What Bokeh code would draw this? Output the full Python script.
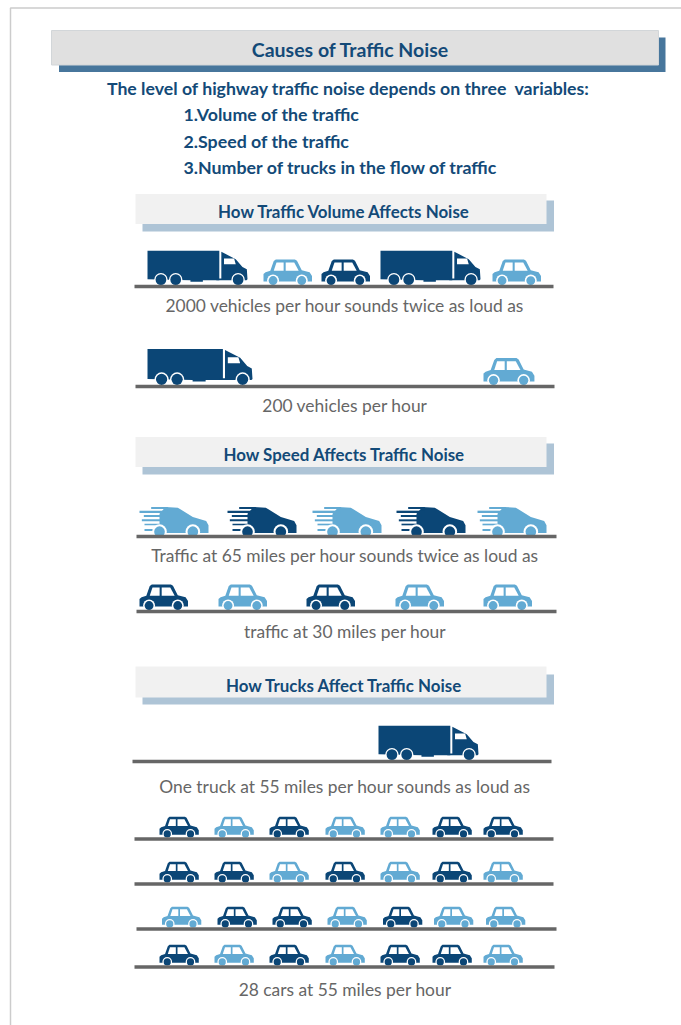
from bokeh.plotting import figure
from bokeh.models import Range1d
from bokeh.core.properties import value
from bokeh.embed import file_html
from bokeh.resources import INLINE

# ---------- content ----------
title = "Causes of Traffic Noise"
intro = "The level of highway traffic noise depends on three\u00a0 variables:"
variables = ["1.Volume of the traffic", "2.Speed of the traffic", "3.Number of trucks in the flow of traffic"]
section_titles = ["How Traffic Volume Affects Noise", "How Speed Affects Traffic Noise", "How Trucks Affect Traffic Noise"]
captions = ["2000 vehicles per hour sounds twice as loud as", "200 vehicles per hour",
            "Traffic at 65 miles per hour sounds twice as loud as", "traffic at 30 miles per hour",
            "One truck at 55 miles per hour sounds as loud as", "28 cars at 55 miles per hour"]

# D = dark blue, L = light blue
row1_kinds = ["truck", "car", "car", "truck", "car"]
row1_shades = ["D", "L", "D", "D", "L"]
row2_kinds = ["truck", "car"]
row2_shades = ["D", "L"]
row3_kinds = ["fast"] * 5
row3_shades = ["L", "D", "L", "D", "L"]
row4_kinds = ["car"] * 5
row4_shades = ["D", "L", "D", "L", "L"]
row5_kinds = ["truck"]
row5_shades = ["D"]
row6_kinds = ["car"] * 7
row6_shades = ["D", "L", "D", "L", "L", "D", "D"]
row7_kinds = ["car"] * 7
row7_shades = ["D", "D", "L", "D", "L", "D", "L"]
row8_kinds = ["car"] * 7
row8_shades = ["L", "D", "D", "L", "D", "L", "L"]
row9_kinds = ["car"] * 7
row9_shades = ["D", "L", "D", "L", "D", "D", "L"]

# ---------- layout ----------
DARK, LIGHT, INK, GREY, ROAD = "#0b4676", "#62aad3", "#134a78", "#666666", "#666666"
SHADE = {"D": DARK, "L": LIGHT}
WIDTH = {"car": 48.5, "fast": 69, "truck": 100}

row_left = [
    [147, 263, 321, 380, 492],
    [147, 483],
    [139, 227, 312, 396, 477],
    [139, 218, 306, 395, 483],
    [378],
    [159, 214, 269, 325, 380, 432, 483],
    [159, 214, 269, 325, 380, 432, 483],
    [161.5, 217, 272, 327, 382.5, 433.5, 485.5],
    [159, 214, 269, 325, 380, 432, 483],
]
row_road = [(134, 553, 286), (135, 554, 386), (136, 556, 536), (136, 556, 611), (132, 551, 761),
            (134, 553, 838.5), (134, 553, 883.5), (136, 556, 928.5), (134, 554, 966.5)]
row_scale = [1, 1.05, 1, 1, 1, 0.81, 0.81, 0.81, 0.81]
all_kinds = [row1_kinds, row2_kinds, row3_kinds, row4_kinds, row5_kinds, row6_kinds, row7_kinds, row8_kinds, row9_kinds]
all_shades = [row1_shades, row2_shades, row3_shades, row4_shades, row5_shades, row6_shades, row7_shades, row8_shades, row9_shades]

# ---------- icon templates (drawing units: origin top-left) ----------
CAR = dict(
    w=142, h=75,
    body=[[(0, 43), (6, 38), (20, 33), (30, 5), (36, 0), (92, 0), (98, 4), (112, 32), (135, 38), (142, 49), (142, 65),
           (0, 65)]],
    holes=[[(38, 9), (59, 9), (59, 33), (30, 33)], [(65, 9), (90, 9), (103, 33), (65, 33)]],
    wheels=[(28, 62, 13), (112, 62, 13)], halo=17.5)
FAST = dict(
    w=207, h=84,
    body=[[(78, 0), (115, 2), (160, 30), (200, 42), (207, 55), (207, 78), (40, 78), (60, 50), (60, 20)],
          [(35, 0), (85, 0), (85, 6), (35, 6)],
          [(0, 11), (85, 11), (85, 18), (0, 18)],
          [(13, 24), (75, 24), (75, 30), (13, 30)],
          [(7, 37), (70, 37), (70, 43), (7, 43)],
          [(15, 50), (60, 50), (60, 55), (15, 55)],
          [(15, 66), (50, 66), (50, 72), (15, 72)]],
    holes=[], wheels=[(60, 74, 16), (160, 74, 16)], halo=22)
TRUCK = dict(
    w=298, h=102,
    body=[[(0, 0), (214, 0), (214, 88), (165, 88), (165, 92), (128, 92), (128, 88), (0, 85)],
          [(220, 3), (263, 25), (283, 48), (296, 55), (298, 85), (295, 88), (205, 88), (205, 83), (220, 83)]],
    holes=[[(228, 23), (258, 23), (263, 40), (228, 40)]],
    wheels=[(40, 86, 16), (84, 86, 16), (270, 86, 16)], halo=20)
TEMPLATES = {"car": CAR, "fast": FAST, "truck": TRUCK}

p = figure(width=681, height=1025, output_backend="svg", toolbar_location=None,
           x_range=Range1d(0, 681), y_range=Range1d(1025, 0), min_border=0, outline_line_color=None)
p.axis.visible = False
p.grid.visible = False
p.xaxis.visible = False
p.yaxis.visible = False

# page edge
p.line([10, 10, 681], [1025, 7.5, 7.5], line_color="#cccccc", line_width=1.5)

# banners
def banner(rect, shadow, fill, edge, border=None):
    p.quad(left=[shadow[0]], right=[shadow[1]], top=[shadow[2]], bottom=[shadow[3]], fill_color=edge, line_color=None)
    p.quad(left=[rect[0]], right=[rect[1]], top=[rect[2]], bottom=[rect[3]], fill_color=fill, line_color=border)

banner((51, 658, 30, 64.5), (58.5, 665, 37, 71.5), "#e0e0e0", "#47769c", "#d2d6d9")
banner((135, 546, 193.5, 223.5), (142, 553.5, 200, 231), "#f1f1f1", "#aec4d6")
banner((135, 546, 436.5, 466.5), (142, 553.5, 443, 474), "#f1f1f1", "#aec4d6")
banner((135, 546, 666, 697), (142, 553.5, 674, 704), "#f1f1f1", "#aec4d6")

# vehicles
for kinds, shades, lefts, road, rs in zip(all_kinds, all_shades, row_left, row_road, row_scale):
    x0, x1, ry = road
    for kind, shade, left in zip(kinds, shades, lefts):
        t = TEMPLATES[kind]
        s = WIDTH[kind] * rs / t["w"]
        bottom = ry - 1.5
        top = bottom - t["h"] * s
        px = lambda pts: [left + a * s for a, _ in pts]
        py = lambda pts: [top + b * s for _, b in pts]
        col = SHADE[shade]
        p.patches([px(b) for b in t["body"]], [py(b) for b in t["body"]], fill_color=col, line_color=None)
        if t["holes"]:
            p.patches([px(h) for h in t["holes"]], [py(h) for h in t["holes"]], fill_color="#ffffff", line_color=None)
        wx = [left + w[0] * s for w in t["wheels"]]
        wy = [top + w[1] * s for w in t["wheels"]]
        p.circle(wx, wy, radius=t["halo"] * s, fill_color="#ffffff", line_color=None)
        p.circle(wx, wy, radius=[w[2] * s for w in t["wheels"]], fill_color=col, line_color=None)
    p.quad(left=[x0], right=[x1], top=[ry - 1.8], bottom=[ry + 1.8], fill_color=ROAD, line_color=None)

# text
def label(x, y, txt, size, color, bold=False, align="center"):
    p.text([x], [y], text=[txt], text_font=value("Lato"), text_font_size=size, text_color=color,
           text_font_style="bold" if bold else "normal", text_align=align, text_baseline="middle")

label(350, 49, title, "19.5px", INK, True)
label(348, 87.5, intro, "17.7px", INK, True)
for y, t in zip([113.5, 140.5, 166.5], variables):
    label(183, y, t, "17.8px", INK, True, "left")
for y, t in zip([211, 454, 685], section_titles):
    label(344, y, t, "16.9px", INK, True)
for y, t in zip([305, 404.5, 554.5, 630.5, 785.5, 989], captions):
    label(344.5, y, t, "17.4px", GREY)

open("out.html", "w").write(file_html(p, INLINE))
